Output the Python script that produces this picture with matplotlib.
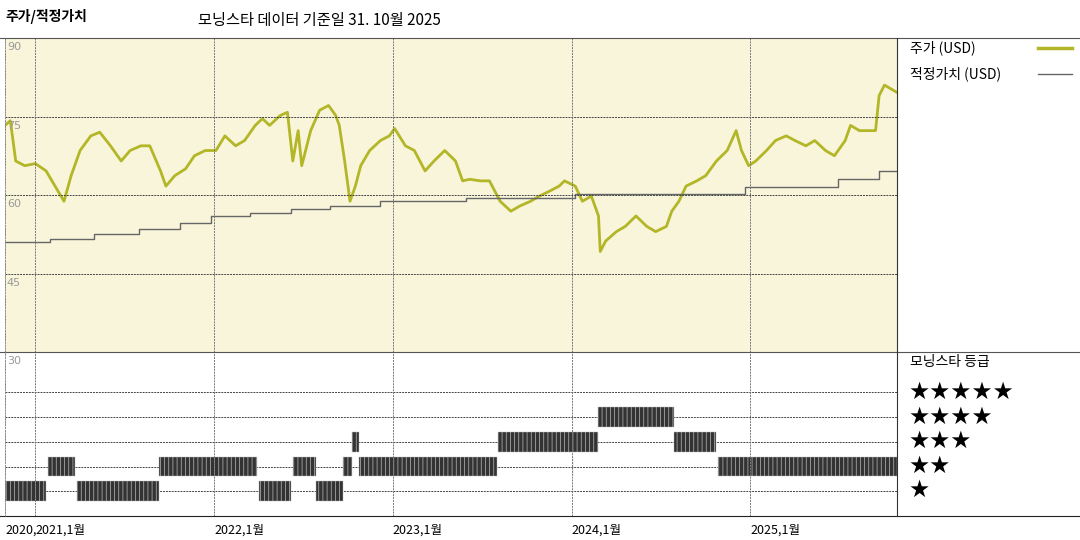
import matplotlib
matplotlib.use("Agg")
import matplotlib.pyplot as plt
from matplotlib.lines import Line2D

plt.rcParams['font.family'] = ['Noto Sans CJK KR', 'DejaVu Sans']
plt.rcParams['hatch.linewidth'] = 0.5

price_t = [2020.83,2020.86,2020.89,2020.94,2021.00,2021.06,2021.11,2021.16,2021.20,2021.25,2021.31,2021.36,2021.42,2021.48,2021.53,2021.59,2021.64,2021.70,2021.73,2021.78,2021.84,2021.89,2021.95,2022.01,2022.06,2022.12,2022.17,2022.23,2022.27,2022.31,2022.37,2022.41,2022.44,2022.47,2022.49,2022.54,2022.59,2022.64,2022.68,2022.70,2022.73,2022.76,2022.79,2022.82,2022.87,2022.93,2022.98,2023.01,2023.07,2023.12,2023.18,2023.23,2023.29,2023.35,2023.39,2023.43,2023.49,2023.54,2023.60,2023.66,2023.71,2023.77,2023.82,2023.88,2023.93,2023.96,2024.02,2024.06,2024.11,2024.15,2024.16,2024.19,2024.25,2024.30,2024.36,2024.42,2024.47,2024.53,2024.56,2024.60,2024.64,2024.70,2024.75,2024.81,2024.87,2024.92,2024.95,2024.99,2025.03,2025.09,2025.14,2025.20,2025.25,2025.31,2025.36,2025.42,2025.47,2025.53,2025.56,2025.61,2025.67,2025.70,2025.72,2025.75,2025.78,2025.82]
price_v = [73.3,74.2,66.5,65.6,66.0,64.6,61.7,58.8,63.7,68.5,71.3,72.0,69.4,66.5,68.5,69.4,69.4,64.6,61.7,63.7,65.0,67.5,68.5,68.5,71.3,69.4,70.4,73.3,74.6,73.3,75.2,75.8,66.5,72.3,65.6,72.3,76.2,77.1,75.2,73.3,66.5,58.8,61.7,65.6,68.5,70.4,71.3,72.7,69.4,68.5,64.6,66.5,68.5,66.5,62.7,63.0,62.7,62.7,58.8,56.9,57.9,58.8,59.8,60.8,61.7,62.7,61.7,58.8,59.8,56.0,49.2,51.2,53.0,54.0,56.0,54.0,53.0,54.0,56.9,58.8,61.7,62.7,63.7,66.5,68.5,72.3,68.5,65.6,66.5,68.5,70.4,71.3,70.4,69.4,70.4,68.5,67.5,70.4,73.3,72.3,72.3,72.3,79.0,81.0,80.4,79.6]

fair_t = [2020.83,2021.08,2021.33,2021.58,2021.81,2021.98,2022.20,2022.43,2022.65,2022.93,2023.41,2024.02,2024.97,2025.49,2025.72,2025.82]
fair_v = [51.0,51.6,52.5,53.5,54.6,56.0,56.5,57.3,57.9,58.8,59.4,60.2,61.5,63.0,64.6,64.6]

rating_start = [2020.83,2021.23,2022.25,2022.57,2021.07,2021.69,2022.44,2022.72,2022.81,2024.82,2024.005,2022.77,2023.59,2024.57,2024.15]
rating_end   = [2021.06,2021.69,2022.43,2022.72,2021.22,2022.24,2022.57,2022.77,2023.58,2025.82,2024.01,2022.81,2024.15,2024.81,2024.57]
rating_val   = [1,1,1,1,2,2,2,2,2,2,2,3,3,3,4]

years = [2021,2022,2023,2024,2025]
year_labels = ['2021,1월','2022,1월','2023,1월','2024,1월','2025,1월']

W, H = 1080, 540
fig = plt.figure(figsize=(10.8,5.4), dpi=100)
L, R = 5/W, 897/W
ax = fig.add_axes([L, 1-352/H, R-L, (352-38)/H])
ax2 = fig.add_axes([L, 1-516/H, R-L, (516-352)/H])
xmin, xmax = 2020.83, 2025.82

ax.set_facecolor('#f8f5da')
ax.plot(price_t, price_v, color='#b3b626', lw=2)
ax.step(fair_t, fair_v, where='post', color='#666666', lw=1)
ax.set_xlim(xmin, xmax); ax.set_ylim(30, 90)
for y in [45,60,75]:
    ax.axhline(y, color='#444', lw=0.7, ls=(0,(2,1)))
for yv in [45,60,75,90]:
    ax.text(xmin+0.01, yv-0.8, str(yv), color='#999', fontsize=8, va='top', family='DejaVu Sans')
for x in years:
    ax.axvline(x, color='#777', lw=0.7, ls=(0,(2,1)))
    ax2.axvline(x, color='#777', lw=0.7, ls=(0,(2,1)))
ax.axvline(xmin, color='#777', lw=0.7, ls=(0,(2,1)))
ax2.axvline(xmin, color='#777', lw=0.7, ls=(0,(2,1)))

ax2.set_xlim(xmin, xmax); ax2.set_ylim(0, 6.63)
for y in [1,2,3,4,5]:
    ax2.axhline(y, color='#444', lw=0.7, ls=(0,(2,1)), zorder=0)
for s, e, v in zip(rating_start, rating_end, rating_val):
    ax2.broken_barh([(s, e-s)], (v-0.4, 0.8), facecolor='#333333', edgecolor='#bbbbbb', hatch='||||', lw=0.3)
ax2.text(xmin+0.01, 6.45, '30', color='#999', fontsize=8, va='top', family='DejaVu Sans')

for a in (ax, ax2):
    a.set_xticks([]); a.set_yticks([])
    for sp in a.spines.values():
        sp.set_visible(False)

for y in [38, 352, 516]:
    fig.add_artist(Line2D([0, 1], [1-y/H]*2, color='#555' if y != 516 else '#222', lw=0.8))
fig.add_artist(Line2D([R, R], [1-516/H, 1-38/H], color='#333', lw=0.8))
fig.add_artist(Line2D([L, L], [1-516/H, 1-38/H], color='#999', lw=0.6, ls=(0,(2,1))))

fig.text(L, 1-530/H, '2020,', fontsize=9, va='center')
for x, lab in zip(years, year_labels):
    fx = L + (x-xmin)/(xmax-xmin)*(R-L)
    fig.text(fx, 1-530/H, lab, fontsize=9, va='center')

fig.text(5/W, 1-16/H, '주가/적정가치', fontsize=10, fontweight='bold', va='center')
fig.text(198/W, 1-20/H, '모닝스타 데이터 기준일 31. 10월 2025', fontsize=11, va='center')

fig.text(910/W, 1-48/H, '주가 (USD)', fontsize=10, va='center')
fig.add_artist(Line2D([1038/W, 1072/W], [1-48/H]*2, color='#b3b626', lw=2.5))
fig.text(910/W, 1-74/H, '적정가치 (USD)', fontsize=10, va='center')
fig.add_artist(Line2D([1038/W, 1072/W], [1-74/H]*2, color='#666', lw=1))

fig.text(910/W, 1-362/H, '모닝스타 등급', fontsize=10, va='center')
for i, n in enumerate([5,4,3,2,1]):
    fig.text(908/W, 1-(392+i*24.5)/H, '★'*n, fontsize=17, va='center', family='DejaVu Sans')

fig.savefig('out.png', dpi=100)
